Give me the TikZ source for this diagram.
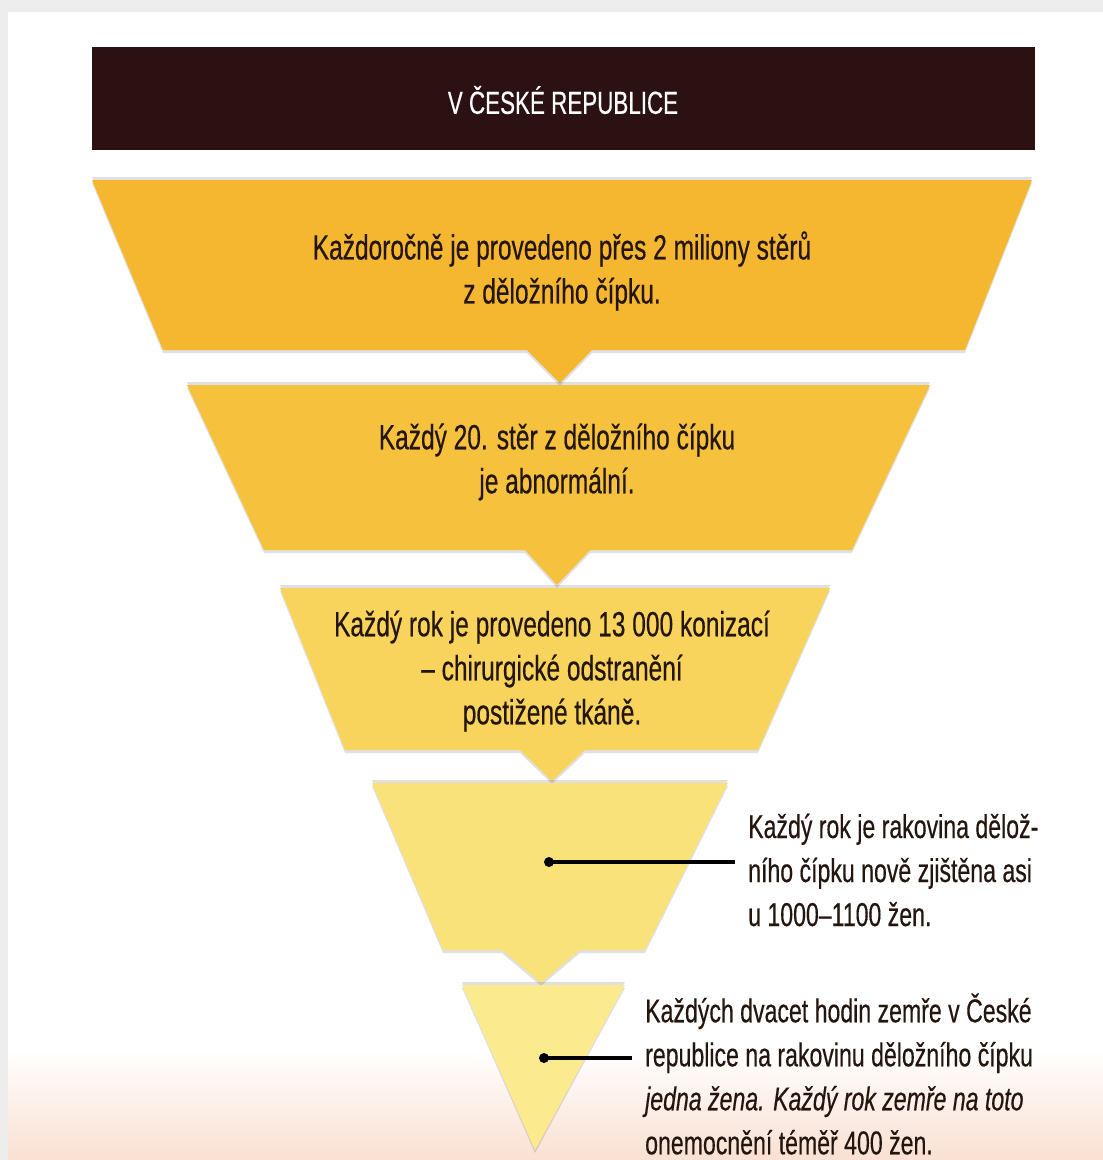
\documentclass[tikz,border=0pt]{standalone}
\usepackage{fontspec}
\setmainfont{Liberation Sans}[FakeStretch=0.70, FakeBold=0.4]
\usepackage{tikz}
\usetikzlibrary{positioning, shadows}

\definecolor{headbrown}{HTML}{2B1111}
\definecolor{textbrown}{HTML}{24160E}
\definecolor{levela}{HTML}{F5B730}
\definecolor{levelb}{HTML}{F6C23E}
\definecolor{levelc}{HTML}{F8D45C}
\definecolor{leveld}{HTML}{FAE27A}
\definecolor{levele}{HTML}{FBEA8E}
\definecolor{peach}{HTML}{F9E0D2}

\begin{document}
\begin{tikzpicture}[x=1pt, y=-1pt, font=\fontsize{35}{44}\selectfont]
        % Setup the styles for the funnel
        \tikzset{level style/.style={general shadow={shadow yshift=3pt,
                                                     fill=black,
                                                     opacity=.12},
                                     general shadow={shadow yshift=-3pt,
                                                     fill=black,
                                                     opacity=.12}},
                 text style/.style={align=center,
                                    text=textbrown,
                                    inner sep=0pt},
                 note style/.style={align=left,
                                    text=textbrown,
                                    anchor=west,
                                    inner sep=0pt,
                                    font=\fontsize{33}{44}\selectfont},
                 dot/.style={circle,
                              fill=black,
                              inner sep=0pt,
                              minimum size=10pt},
                 pointer/.style={line width=4.5pt,
                                 draw=black,
                                 shorten >=13pt}}
        \useasboundingbox (0, 0) rectangle (1103, 1160);

        % Page background
        \fill[black!7] (0, 0) rectangle (1103, 1160);
        \fill[white] (8, 12) rectangle (1103, 1160);
        \shade[top color=white, bottom color=peach] (8, 1050) rectangle (1103, 1160);

        % Header bar
        \fill[headbrown] (92, 47) rectangle (1035, 150);
        \node[text=white, font=\fontsize{32}{38}\selectfont] at (563, 100) (head) {V ČESKÉ REPUBLICE};

        % Draw the levels
        \fill[levela, level style] (92, 180) -- (1032, 180) -- (965, 350) -- (592, 350)
            -- (560, 383) -- (527, 350) -- (163, 350) -- cycle;
        \fill[levelb, level style] (187, 385) -- (930, 385) -- (852, 550) -- (590, 550)
            -- (557, 585) -- (525, 550) -- (264, 550) -- cycle;
        \fill[levelc, level style] (280, 588) -- (830, 588) -- (758, 750) -- (585, 750)
            -- (552, 781) -- (520, 750) -- (345, 750) -- cycle;
        \fill[leveld, level style] (372, 783) -- (728, 783) -- (645, 950) -- (580, 950)
            -- (541, 983) -- (502, 950) -- (443, 950) -- cycle;
        \fill[levele, level style] (462, 985) -- (625, 985) -- (535, 1150) -- cycle;

        % Texts in the levels
        \node[text style] at (562, 271) (lvlA) {Každoročně je provedeno přes 2 miliony stěrů\\
                                                z děložního čípku.};
        \node[text style] at (557, 462) (lvlB) {Každý 20. stěr z děložního čípku\\
                                                je abnormální.};
        \node[text style] at (552, 671) (lvlC) {Každý rok je provedeno 13 000 konizací\\
                                                – chirurgické odstranění\\
                                                postižené tkáně.};

        % Notes beside the two lowest levels
        \node[note style] at (748, 870) (noteD) {Každý rok je rakovina dělož-\\
                                                 ního čípku nově zjištěna asi\\
                                                 u 1000–1100 žen.};
        \node[note style] at (645, 1074) (noteE) {Každých dvacet hodin zemře v České\\
                                                  republice na rakovinu děložního čípku\\
                                                  {\itshape jedna žena. Každý rok zemře na toto}\\
                                                  onemocnění téměř 400 žen.};

        % Connect the dots with the notes
        \node[dot] at (549, 862) (dotD) {};
        \node[dot] at (544, 1058) (dotE) {};
        \draw[pointer] (dotD.center) -- (dotD -| noteD.west);
        \draw[pointer] (dotE.center) -- (dotE -| noteE.west);
\end{tikzpicture}
\end{document}
